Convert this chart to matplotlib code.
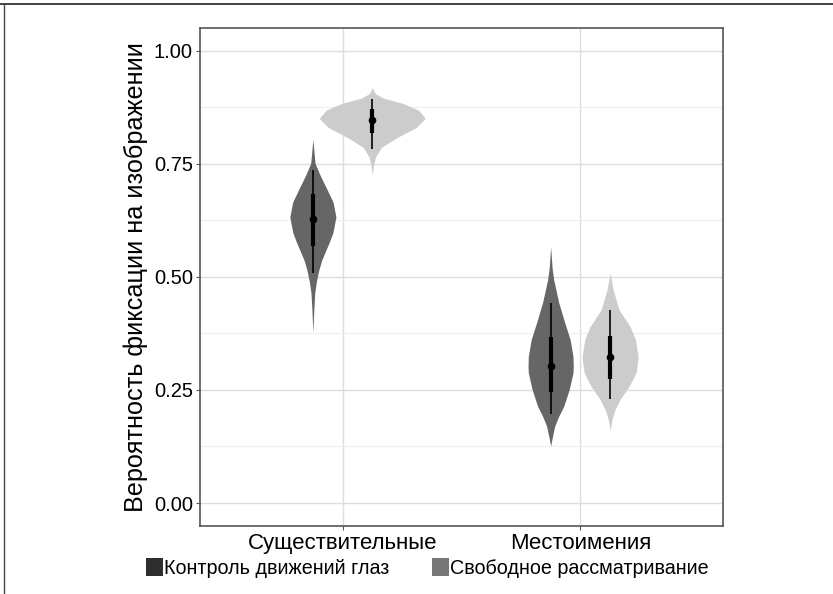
import numpy as np
import matplotlib
matplotlib.use("Agg")
import matplotlib.pyplot as plt
from matplotlib.patches import Patch
from matplotlib.lines import Line2D

plt.rcParams['font.family'] = ['Liberation Sans', 'DejaVu Sans']

# Data
categories = ['Существительные', 'Местоимения']
groups = ['Контроль движений глаз', 'Свободное рассматривание']

# violin outlines: y values and half widths (x units)
noun_eye_y = [0.804, 0.78, 0.751, 0.725, 0.698, 0.665, 0.632, 0.597, 0.575, 0.553, 0.535, 0.515, 0.49, 0.465, 0.427, 0.377]
noun_eye_w = [0.0, 0.004, 0.009, 0.03, 0.055, 0.085, 0.097, 0.084, 0.068, 0.05, 0.036, 0.025, 0.015, 0.008, 0.004, 0.0]
noun_free_y = [0.918, 0.905, 0.895, 0.883, 0.868, 0.85, 0.83, 0.808, 0.786, 0.764, 0.745, 0.725]
noun_free_w = [0.0, 0.012, 0.045, 0.13, 0.195, 0.223, 0.185, 0.105, 0.038, 0.013, 0.005, 0.0]
pron_eye_y = [0.566, 0.52, 0.493, 0.443, 0.399, 0.361, 0.324, 0.302, 0.288, 0.251, 0.214, 0.192, 0.17, 0.148, 0.126]
pron_eye_w = [0.0, 0.006, 0.013, 0.034, 0.059, 0.082, 0.094, 0.095, 0.094, 0.078, 0.055, 0.034, 0.017, 0.008, 0.0]
pron_free_y = [0.508, 0.471, 0.427, 0.39, 0.361, 0.322, 0.288, 0.258, 0.229, 0.207, 0.185, 0.159]
pron_free_w = [0.0, 0.013, 0.038, 0.084, 0.107, 0.118, 0.109, 0.08, 0.042, 0.021, 0.008, 0.0]

# medians, inner (thick) and outer (thin) ranges
medians = [[0.628, 0.846], [0.302, 0.322]]
thick_lo = [[0.568, 0.817], [0.245, 0.275]]
thick_hi = [[0.683, 0.870], [0.368, 0.370]]
thin_lo = [[0.509, 0.782], [0.196, 0.229]]
thin_hi = [[0.736, 0.892], [0.443, 0.427]]

violins = [[(noun_eye_y, noun_eye_w), (noun_free_y, noun_free_w)],
           [(pron_eye_y, pron_eye_w), (pron_free_y, pron_free_w)]]

violin_colors = ['#666666', '#cccccc']
key_colors = ['#2e2e2e', '#777777']
offsets = [-0.125, 0.125]

fig = plt.figure(figsize=(8.33, 5.94), dpi=100)
ax = fig.add_axes([0.240, 0.115, 0.628, 0.838])

# Draw violins and summaries
for i in range(len(categories)):
    for j in range(len(groups)):
        x = i + 1 + offsets[j]
        yy = np.array(violins[i][j][0])
        ww = np.array(violins[i][j][1])
        ax.fill_betweenx(yy, x - ww, x + ww, color=violin_colors[j], lw=0, zorder=3)
        ax.vlines(x, thin_lo[i][j], thin_hi[i][j], color='black', lw=1.2, zorder=4)
        ax.vlines(x, thick_lo[i][j], thick_hi[i][j], color='black', lw=3, zorder=4)
        ax.plot(x, medians[i][j], 'o', color='black', ms=4.5, zorder=5)

# Axes
ax.set_xlim(0.4, 2.6)
ax.set_ylim(-0.05, 1.05)
ax.set_xticks([1, 2])
ax.set_xticklabels(categories, fontsize=16)
ax.set_yticks([0, 0.25, 0.5, 0.75, 1.0])
ax.set_yticklabels(['0.00', '0.25', '0.50', '0.75', '1.00'], fontsize=14.5)
ax.set_yticks([0.125, 0.375, 0.625, 0.875], minor=True)
ax.tick_params(axis='y', which='minor', length=0)
ax.tick_params(axis='both', which='major', length=3, color='#555555', pad=2)
ax.grid(True, which='major', color='#dddddd', lw=1, zorder=0)
ax.grid(True, which='minor', axis='y', color='#eeeeee', lw=0.8, zorder=0)
ax.set_axisbelow(True)
for s in ax.spines.values():
    s.set_color('#555555')
    s.set_linewidth(1.2)
ax.set_ylabel('Вероятность фиксации на изображении', fontsize=18.2, labelpad=4)

# Legend under the plot
handles = [Patch(facecolor=key_colors[k], edgecolor='none', label=groups[k]) for k in range(2)]
fig.legend(handles=handles, loc='center', bbox_to_anchor=(0.513, 0.044), ncol=2,
           frameon=False, fontsize=14.2, handlelength=0.85, handleheight=1.05,
           handletextpad=0.05, columnspacing=2.2)

# Border lines of the original figure
fig.add_artist(Line2D([0, 1], [0.994, 0.994], color='#222222', lw=1.2, transform=fig.transFigure))
fig.add_artist(Line2D([0.005, 0.005], [0, 0.994], color='#444444', lw=1.0, transform=fig.transFigure))

fig.savefig('out.png', dpi=100)
